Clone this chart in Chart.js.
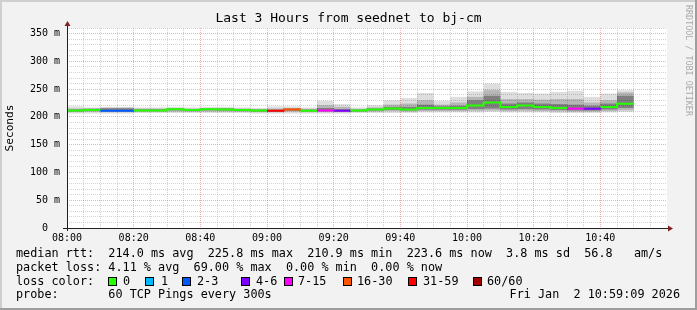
<!DOCTYPE html>
<html>
<head>
<meta charset="utf-8">
<script src="https://cdn.jsdelivr.net/npm/chart.js@4/dist/chart.umd.min.js"></script>
<style>
  html, body { margin: 0; padding: 0; background: #f2f2f2; }
</style>
</head>
<body>
<canvas id="graficoPing" width="697" height="310"></canvas>
<script>
// 5 minute steps, 60 pings each
const inicios = ['08:00','08:05','08:10','08:15','08:20','08:25','08:30','08:35','08:40','08:45','08:50','08:55',
                 '09:00','09:05','09:10','09:15','09:20','09:25','09:30','09:35','09:40','09:45','09:50','09:55',
                 '10:00','10:05','10:10','10:15','10:20','10:25','10:30','10:35','10:40','10:45']
const mediana = [211.4, 212.5, 211.0, 211.0, 211.4, 211.3, 213.6, 212.2, 213.6, 213.3, 212.2, 211.3,
                 210.9, 213.3, 211.0, 211.3, 210.9, 211.3, 213.3, 215.0, 213.4, 216.0, 216.0, 216.0,
                 220.4, 225.8, 217.9, 220.4, 217.9, 216.0, 214.8, 214.8, 217.9, 223.6]
const perdidos = [0, 0, 2, 2, 0, 0, 0, 0, 0, 0, 0, 0,
                  41, 17, 0, 8, 4, 0, 0, 0, 0, 0, 0, 0,
                  0, 0, 0, 0, 0, 0, 7, 4, 0, 0]
// smoke: min/max, 10-90 and 30-70 bands
const fumoMin = [206, 206, 206, 206, 207, 207, 207, 207, 207, 207, 207, 206,
                 206, 206, 206, 206, 206, 207, 207, 207, 207, 208, 208, 208,
                 208, 209, 208, 208, 208, 207, 207, 207, 208, 209]
const fumoMax = [219, 217, 218, 218, 217, 217, 218, 217, 218, 218, 217, 216,
                 219, 219, 217, 229, 223, 217, 221, 230, 234, 243, 229, 236,
                 246, 260, 245, 243, 242, 245, 247, 236, 242, 248]
const meioBaixo = [208.5, 209, 208.5, 208.5, 209, 209, 209.5, 209, 209.5, 209.5, 209, 208.5,
                   208.5, 209.5, 208.5, 208.5, 208.5, 209, 209.5, 210.5, 209.5, 210.5, 210.5, 210.5,
                   211, 211.5, 210.5, 211, 210.5, 210, 209.5, 209.5, 210.5, 212]
const meioAlto = [215, 215.5, 216.5, 216.5, 215, 215, 216, 215, 216, 216, 215, 214,
                  215, 216, 214.5, 221, 218, 214.5, 217, 222, 224, 230, 222, 226,
                  236, 248, 232, 232, 231, 232, 232, 226, 230, 244]
const nucleoBaixo = [210, 211, 210, 210, 210.5, 210.5, 212, 211, 212, 211.5, 210.5, 210,
                     209.5, 211, 210, 210, 210, 210, 211.5, 212.5, 211.5, 213, 213, 213,
                     214, 215, 213.5, 214, 213.5, 212.5, 211.5, 211.5, 213.5, 216]
const nucleoAlto = [213.5, 214.5, 215.5, 215.5, 213.5, 213.5, 215, 214, 215, 215, 214, 213,
                    213, 215, 213, 216, 214, 213, 215, 218, 218, 222, 219, 220,
                    230, 238, 224, 226, 224, 223, 222, 220, 224, 238]

const corPerda = ['#26ff00', '#00b8ff', '#0059ff', '#7e00ff', '#ff00ff', '#ff5500', '#ff0000', '#a10000']
const nomePerda = ['0', '1', '2-3', '4-6', '7-15', '16-30', '31-59', '60/60']
const limitePerda = [0, 1, 3, 6, 15, 30, 59, 60]

const titulo = 'Last 3 Hours from seednet to bj-cm'
const linhaRtt = 'median rtt:  214.0 ms avg  225.8 ms max  210.9 ms min  223.6 ms now  3.8 ms sd  56.8   am/s'
const linhaPerda = 'packet loss: 4.11 % avg  69.00 % max  0.00 % min  0.00 % now'
const linhaProbe = 'probe:       60 TCP Pings every 300s'
const carimbo = 'Fri Jan  2 10:59:09 2026'

const MONO = '"DejaVu Sans Mono", monospace'

const minutos = s => (Number(s.slice(0, 2)) - 8) * 60 + Number(s.slice(3))
const hhmm = m => String(8 + Math.floor(m / 60)).padStart(2, '0') + ':' + String(m % 60).padStart(2, '0')
const classe = n => limitePerda.findIndex(l => n <= l)

const t0 = inicios.map(minutos)
const pontosMediana = mediana.map((v, i) => ({ x: t0[i], y: v }))
pontosMediana.push({ x: t0[t0.length - 1] + 5, y: mediana[mediana.length - 1] })

const faixa = (lo, hi) => lo.map((v, i) => ({ x: t0[i] + 2.5, y: [v, hi[i]] }))

const moldura = {
    id: 'moldura',
    beforeDraw(chart) {
        const { ctx, chartArea: a } = chart
        ctx.save()
        ctx.fillStyle = '#f2f2f2'
        ctx.fillRect(0, 0, chart.width, chart.height)
        ctx.fillStyle = '#cfcfcf'
        ctx.fillRect(0, 0, chart.width, 2)
        ctx.fillRect(0, 0, 2, chart.height)
        ctx.fillStyle = '#9e9e9e'
        ctx.fillRect(0, chart.height - 2, chart.width, 2)
        ctx.fillRect(chart.width - 2, 0, 2, chart.height)
        ctx.fillStyle = '#ffffff'
        ctx.fillRect(a.left, a.top, a.right - a.left, a.bottom - a.top)
        ctx.restore()
    },
    afterDraw(chart) {
        const { ctx, chartArea: a } = chart
        ctx.save()

        // axes + arrows
        ctx.strokeStyle = '#202020'
        ctx.lineWidth = 1
        ctx.beginPath()
        ctx.moveTo(a.left - 4, a.bottom + 0.5)
        ctx.lineTo(a.right + 2, a.bottom + 0.5)
        ctx.moveTo(a.left + 0.5, a.bottom + 3)
        ctx.lineTo(a.left + 0.5, a.top - 3)
        ctx.stroke()
        ctx.fillStyle = '#802020'
        ctx.beginPath()
        ctx.moveTo(a.left - 2.5, a.top - 2)
        ctx.lineTo(a.left + 3.5, a.top - 2)
        ctx.lineTo(a.left + 0.5, a.top - 7)
        ctx.closePath()
        ctx.fill()
        ctx.beginPath()
        ctx.moveTo(a.right + 1, a.bottom - 2.5)
        ctx.lineTo(a.right + 1, a.bottom + 3.5)
        ctx.lineTo(a.right + 6, a.bottom + 0.5)
        ctx.closePath()
        ctx.fill()

        // title
        ctx.fillStyle = '#000'
        ctx.textBaseline = 'middle'
        ctx.textAlign = 'center'
        ctx.font = '13px ' + MONO
        ctx.fillText(titulo, chart.width / 2, 19)

        // y title
        ctx.save()
        ctx.translate(10, (a.top + a.bottom) / 2)
        ctx.rotate(-Math.PI / 2)
        ctx.font = '11.2px ' + MONO
        ctx.fillText('Seconds', 0, 0)
        ctx.restore()

        // watermark
        ctx.save()
        ctx.translate(688, 5)
        ctx.rotate(Math.PI / 2)
        ctx.textAlign = 'left'
        ctx.font = '8.4px ' + MONO
        ctx.fillStyle = '#aaaaaa'
        ctx.fillText('RRDTOOL / TOBI OETIKER', 0, 0)
        ctx.restore()

        // legend
        ctx.font = '11.8px ' + MONO
        ctx.textAlign = 'left'
        ctx.fillStyle = '#000'
        ctx.fillText(linhaRtt, 16, 254)
        ctx.fillText(linhaPerda, 16, 268)
        ctx.fillText('loss color:', 16, 281.5)
        ctx.fillText(linhaProbe, 16, 295)
        ctx.textAlign = 'right'
        ctx.fillText(carimbo, 680, 295)

        const caixaX = [108, 145, 182, 241, 284, 343, 408, 473]
        const textoX = [123, 161, 197, 256, 298, 357, 423, 487]
        ctx.textAlign = 'left'
        corPerda.forEach((c, i) => {
            ctx.fillStyle = c
            ctx.fillRect(caixaX[i] + 0.5, 277.5, 8, 8)
            ctx.strokeStyle = '#000'
            ctx.strokeRect(caixaX[i] + 0.5, 277.5, 8, 8)
            ctx.fillStyle = '#000'
            ctx.fillText(nomePerda[i], textoX[i], 281.5)
        })
        ctx.restore()
    }
}

const corGrade = (maior, v, fim) => v === fim ? 'rgba(0,0,0,0)' : (v % maior === 0 ? 'rgba(222,79,79,0.45)' : 'rgba(143,143,143,0.38)')

new Chart(document.getElementById('graficoPing'), {
    type: 'bar',
    data: {
        datasets: [
            {
                type: 'line',
                data: pontosMediana,
                stepped: 'before',
                borderWidth: 2,
                borderColor: corPerda[0],
                borderCapStyle: 'butt',
                pointRadius: 0,
                order: 0,
                segment: {
                    borderColor: c => corPerda[classe(perdidos[c.p0DataIndex])]
                }
            },
            { data: faixa(nucleoBaixo, nucleoAlto), backgroundColor: 'rgba(0,0,0,0.30)', order: 1 },
            { data: faixa(meioBaixo, meioAlto), backgroundColor: 'rgba(0,0,0,0.18)', order: 2 },
            { data: faixa(fumoMin, fumoMax), backgroundColor: 'rgba(0,0,0,0.13)', order: 3 }
        ]
    },
    options: {
        responsive: false,
        animation: false,
        devicePixelRatio: 1,
        layout: { padding: { top: 28, right: 30, left: 0, bottom: 0 } },
        plugins: { legend: { display: false }, tooltip: { enabled: false } },
        datasets: {
            bar: { grouped: false, barPercentage: 1, categoryPercentage: 1, borderWidth: 0, inflateAmount: 0 }
        },
        scales: {
            x: {
                type: 'linear',
                min: 0,
                max: 180,
                offset: false,
                grid: {
                    offset: false,
                    drawTicks: false,
                    lineWidth: 1,
                    color: c => corGrade(20, c.tick.value, 180)
                },
                border: { display: false, dash: [1, 1] },
                ticks: {
                    stepSize: 5,
                    autoSkip: false,
                    maxRotation: 0,
                    padding: 4,
                    color: '#000',
                    font: { family: MONO, size: 10 },
                    callback: v => (v % 20 === 0 && v < 180) ? hhmm(v) : ''
                },
                afterFit: s => { s.height = 82 }
            },
            y: {
                min: 0,
                max: 360,
                grid: {
                    drawTicks: false,
                    lineWidth: 1,
                    color: c => corGrade(50, c.tick.value, -1)
                },
                border: { display: false, dash: [1, 1] },
                ticks: {
                    stepSize: 10,
                    autoSkip: false,
                    padding: 7,
                    color: '#000',
                    font: { family: MONO, size: 10 },
                    callback: v => v % 50 === 0 ? (v === 0 ? '0  ' : v + ' m') : ''
                },
                afterFit: s => { s.width = 67 }
            }
        }
    },
    plugins: [moldura]
})
</script>
</body>
</html>
